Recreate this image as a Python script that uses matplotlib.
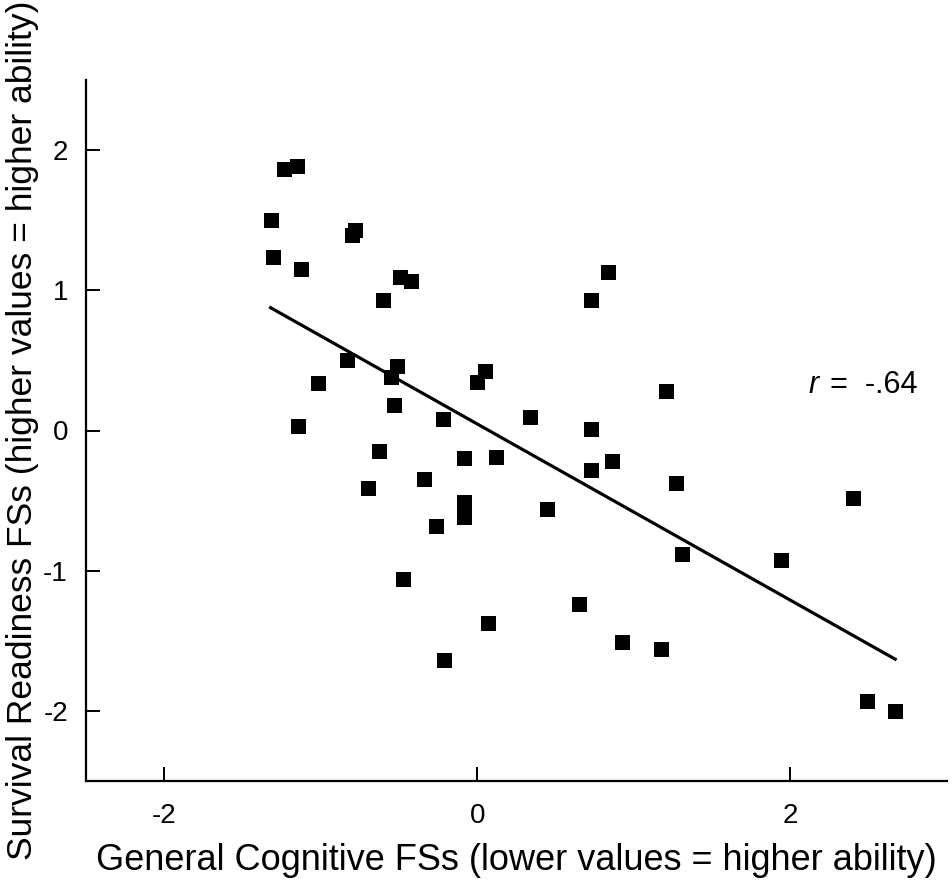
import matplotlib
matplotlib.use("Agg")
import matplotlib.pyplot as plt

plt.rcParams['font.family'] = ['Liberation Sans', 'DejaVu Sans']

# Data
gen_cog = [-1.232, -1.149, -1.316, -1.308, -1.128, -0.779, -0.800, -0.491, -0.421, -0.601,
           -0.830, -0.512, -0.552, -1.020, -0.533, -0.222, -1.147, -0.631, -0.083, -0.343,
           -0.700, -0.083, -0.083, -0.262, -0.472, 0.068, -0.214, 0.834, 0.724, 0.046,
           -0.002, 1.202, 0.337, 0.724, 0.116, 0.863, 0.724, 1.272, 2.398, 1.310,
           1.939, 0.652, 0.923, 1.170, 2.487, 2.667, 0.444]
survival = [1.864, 1.886, 1.498, 1.234, 1.155, 1.431, 1.391, 1.093, 1.069, 0.929,
            0.502, 0.459, 0.381, 0.338, 0.183, 0.083, 0.033, -0.148, -0.198, -0.348,
            -0.412, -0.507, -0.614, -0.679, -1.057, -1.371, -1.638, 1.131, 0.929, 0.421,
            0.345, 0.281, 0.098, 0.010, -0.190, -0.219, -0.283, -0.374, -0.481, -0.881,
            -0.921, -1.234, -1.512, -1.562, -1.926, -1.998, -0.562]
fit_x = [-1.321, 2.669]
fit_y = [0.876, -1.631]
x_ticks = [-2, 0, 2]
y_ticks = [-2, -1, 0, 1, 2]
r_label = "=  -.64"

fig = plt.figure(figsize=(9.53, 8.89), dpi=100)
ax = fig.add_axes([86/953, 1 - 781/889, (947-86)/953, (781-80)/889])

ax.plot(gen_cog, survival, linestyle='none', marker='s', markersize=10.8,
        color='black', markeredgewidth=0)
ax.plot(fit_x, fit_y, color='black', linewidth=2.3)

ax.set_xlim(-2.5, 3.0)
ax.set_ylim(-2.5, 2.5)
ax.set_xticks(x_ticks)
ax.set_yticks(y_ticks)
ax.set_xticklabels([str(t) for t in x_ticks])
ax.set_yticklabels([str(t) for t in y_ticks])

for s in ['top', 'right']:
    ax.spines[s].set_visible(False)
for s in ['left', 'bottom']:
    ax.spines[s].set_linewidth(1.6)

ax.tick_params(axis='both', direction='in', length=10, width=1.4, labelsize=20)
ax.tick_params(axis='x', pad=16)
ax.tick_params(axis='y', pad=13)

ax.set_xlabel("General Cognitive FSs (lower values = higher ability)", fontsize=26, labelpad=10)
ax.set_ylabel("Survival Readiness FSs (higher values = higher ability)", fontsize=25.5, labelpad=3)

ax.text(2.115, 0.325, "r", fontsize=22, style='italic', ha='left', va='center')
ax.text(2.254, 0.325, r_label, fontsize=22, ha='left', va='center')

fig.savefig("out.png", dpi=100)
